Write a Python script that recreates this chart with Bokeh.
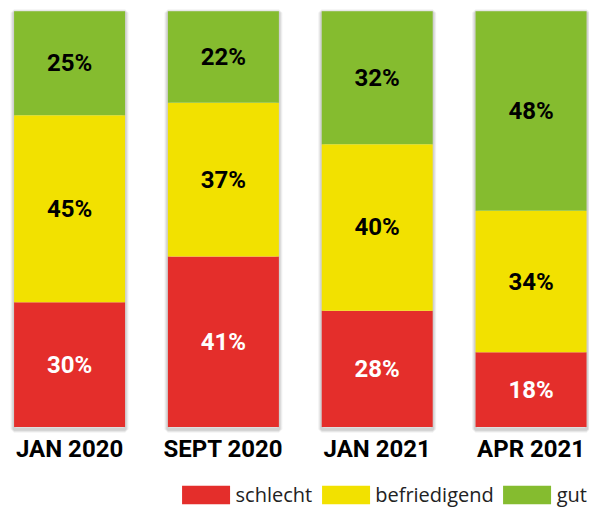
from bokeh.plotting import figure
from bokeh.models import ColumnDataSource, Range1d, FixedTicker, Legend, LegendItem
from bokeh.embed import file_html
from bokeh.resources import INLINE
from bokeh.core.properties import value

categories = ["JAN 2020", "SEPT 2020", "JAN 2021", "APR 2021"]
schlecht = [30, 41, 28, 18]
befriedigend = [45, 37, 40, 34]
gut = [25, 22, 32, 48]
series_names = ["schlecht", "befriedigend", "gut"]
colors = ["#E42E2B", "#F2E100", "#85BC2F"]
label_colors = ["white", "black", "black"]

xs = list(range(len(categories)))
source = ColumnDataSource(dict(x=xs, schlecht=schlecht, befriedigend=befriedigend, gut=gut))

p = figure(width=589, height=510, output_backend="svg", toolbar_location=None,
           x_range=Range1d(-0.449, 3.380), y_range=Range1d(-20.05, 102.57),
           min_border=0, min_border_left=0, min_border_right=0,
           min_border_top=0, min_border_bottom=0, y_axis_location=None)
p.outline_line_color = None
p.grid.visible = False
p.background_fill_color = "white"
p.border_fill_color = "white"

bar_w = 0.7215
totals = [a + b + c for a, b, c in zip(schlecht, befriedigend, gut)]

# soft drop shadow
for lw, alpha in [(7, 0.05), (5, 0.06), (3, 0.08)]:
    p.vbar(x=xs, width=bar_w, top=[t - 0.35 for t in totals], bottom=[-0.5] * len(xs),
           fill_alpha=0, line_color="#000000", line_alpha=alpha, line_width=lw)

renderers = p.vbar_stack(series_names, x="x", width=bar_w, color=colors,
                         line_color=None, source=source)

# percentage labels
base = [0] * len(xs)
for name, vals, lc in zip(series_names, [schlecht, befriedigend, gut], label_colors):
    mids = [b + v / 2 for b, v in zip(base, vals)]
    p.text(x=xs, y=mids, text=[f"{v}%" for v in vals], text_align="center",
           text_baseline="middle", text_font=value("Roboto"), text_font_style="bold",
           text_font_size="24px", text_color=lc)
    base = [b + v for b, v in zip(base, vals)]

ax = p.xaxis[0]
ax.fixed_location = 0
ax.ticker = FixedTicker(ticks=xs)
ax.major_label_overrides = {i: c for i, c in enumerate(categories)}
ax.axis_line_color = None
ax.major_tick_line_color = None
ax.minor_tick_line_color = None
ax.major_label_standoff = 2
ax.major_label_text_font = "Roboto"
ax.major_label_text_font_style = "bold"
ax.major_label_text_font_size = "24px"
ax.major_label_text_color = "black"

legend = Legend(items=[LegendItem(label=n, renderers=[r]) for n, r in zip(series_names, renderers)],
                orientation="horizontal", location="bottom_right", margin=2, padding=0,
                spacing=3, glyph_width=60, glyph_height=23, label_standoff=0,
                label_text_font="Open Sans", label_text_font_size="20px",
                label_text_color="#222222", border_line_color=None,
                background_fill_alpha=0)
p.add_layout(legend)

open("out.html", "w").write(file_html(p, INLINE))
